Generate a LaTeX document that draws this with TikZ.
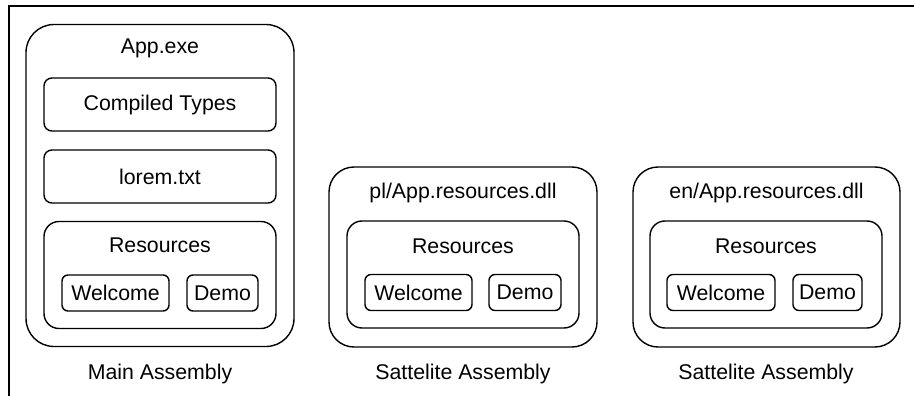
\documentclass[tikz,border=0pt]{standalone}
\usepackage{fontspec}
\setmainfont{Liberation Sans}
\begin{document}
\begin{tikzpicture}[x=1pt,y=-1pt,
  every node/.style={font=\fontsize{21.3}{24}\selectfont, inner sep=0pt},
  outerbox/.style={draw, line width=1.4pt, rounded corners=28pt},
  resbox/.style={draw, line width=1.4pt, rounded corners=15pt, minimum width=232pt, minimum height=107pt},
  itembox/.style={draw, line width=1.4pt, rounded corners=8pt, minimum width=232pt, minimum height=53pt},
  smallbox/.style={draw, line width=1.4pt, rounded corners=6pt, minimum height=36pt},
  txt/.style={}]
\useasboundingbox (0,0) rectangle (914,396);
\draw[line width=2pt] (8.5,396) -- (8.5,6.5) -- (914,6.5);
% Main assembly
\node[outerbox, minimum width=268pt, minimum height=322pt] (main) at (160,185.5) {};
\node[txt] (maint) at (160,48) {App.exe};
\node[itembox] (ct) at (160,104.5) {Compiled Types};
\node[itembox] (lorem) at (160,176.5) {lorem.txt};
\node[resbox] (mres) at (160,275) {};
\node[txt] (mrest) at (160,245) {Resources};
\node[smallbox, minimum width=107pt] (mw) at (115.5,293) {Welcome};
\node[smallbox, minimum width=71pt] (md) at (222.5,293) {Demo};
\node[txt] (mlab) at (160,374) {Main Assembly};
% Satellite pl
\node[outerbox, rounded corners=25pt, minimum width=268pt, minimum height=180pt] (pl) at (463,257) {};
\node[txt] (plt) at (463,193) {pl/App.resources.dll};
\node[resbox] (plres) at (463,274.5) {};
\node[txt] (plrest) at (463,246) {Resources};
\node[smallbox, minimum width=107pt] (plw) at (418.5,292.5) {Welcome};
\node[smallbox, minimum width=72pt] (pld) at (525,292.5) {Demo};
\node[txt] (pllab) at (463,374) {Sattelite Assembly};
% Satellite en
\node[outerbox, rounded corners=25pt, minimum width=267pt, minimum height=180pt] (en) at (766.5,257) {};
\node[txt] (ent) at (766.5,193) {en/App.resources.dll};
\node[resbox] (enres) at (766,274.5) {};
\node[txt] (enrest) at (766,246) {Resources};
\node[smallbox, minimum width=108pt] (enw) at (721,292.5) {Welcome};
\node[smallbox, minimum width=69pt] (end) at (827.5,292.5) {Demo};
\node[txt] (enlab) at (766,374) {Sattelite Assembly};
\end{tikzpicture}
\end{document}
